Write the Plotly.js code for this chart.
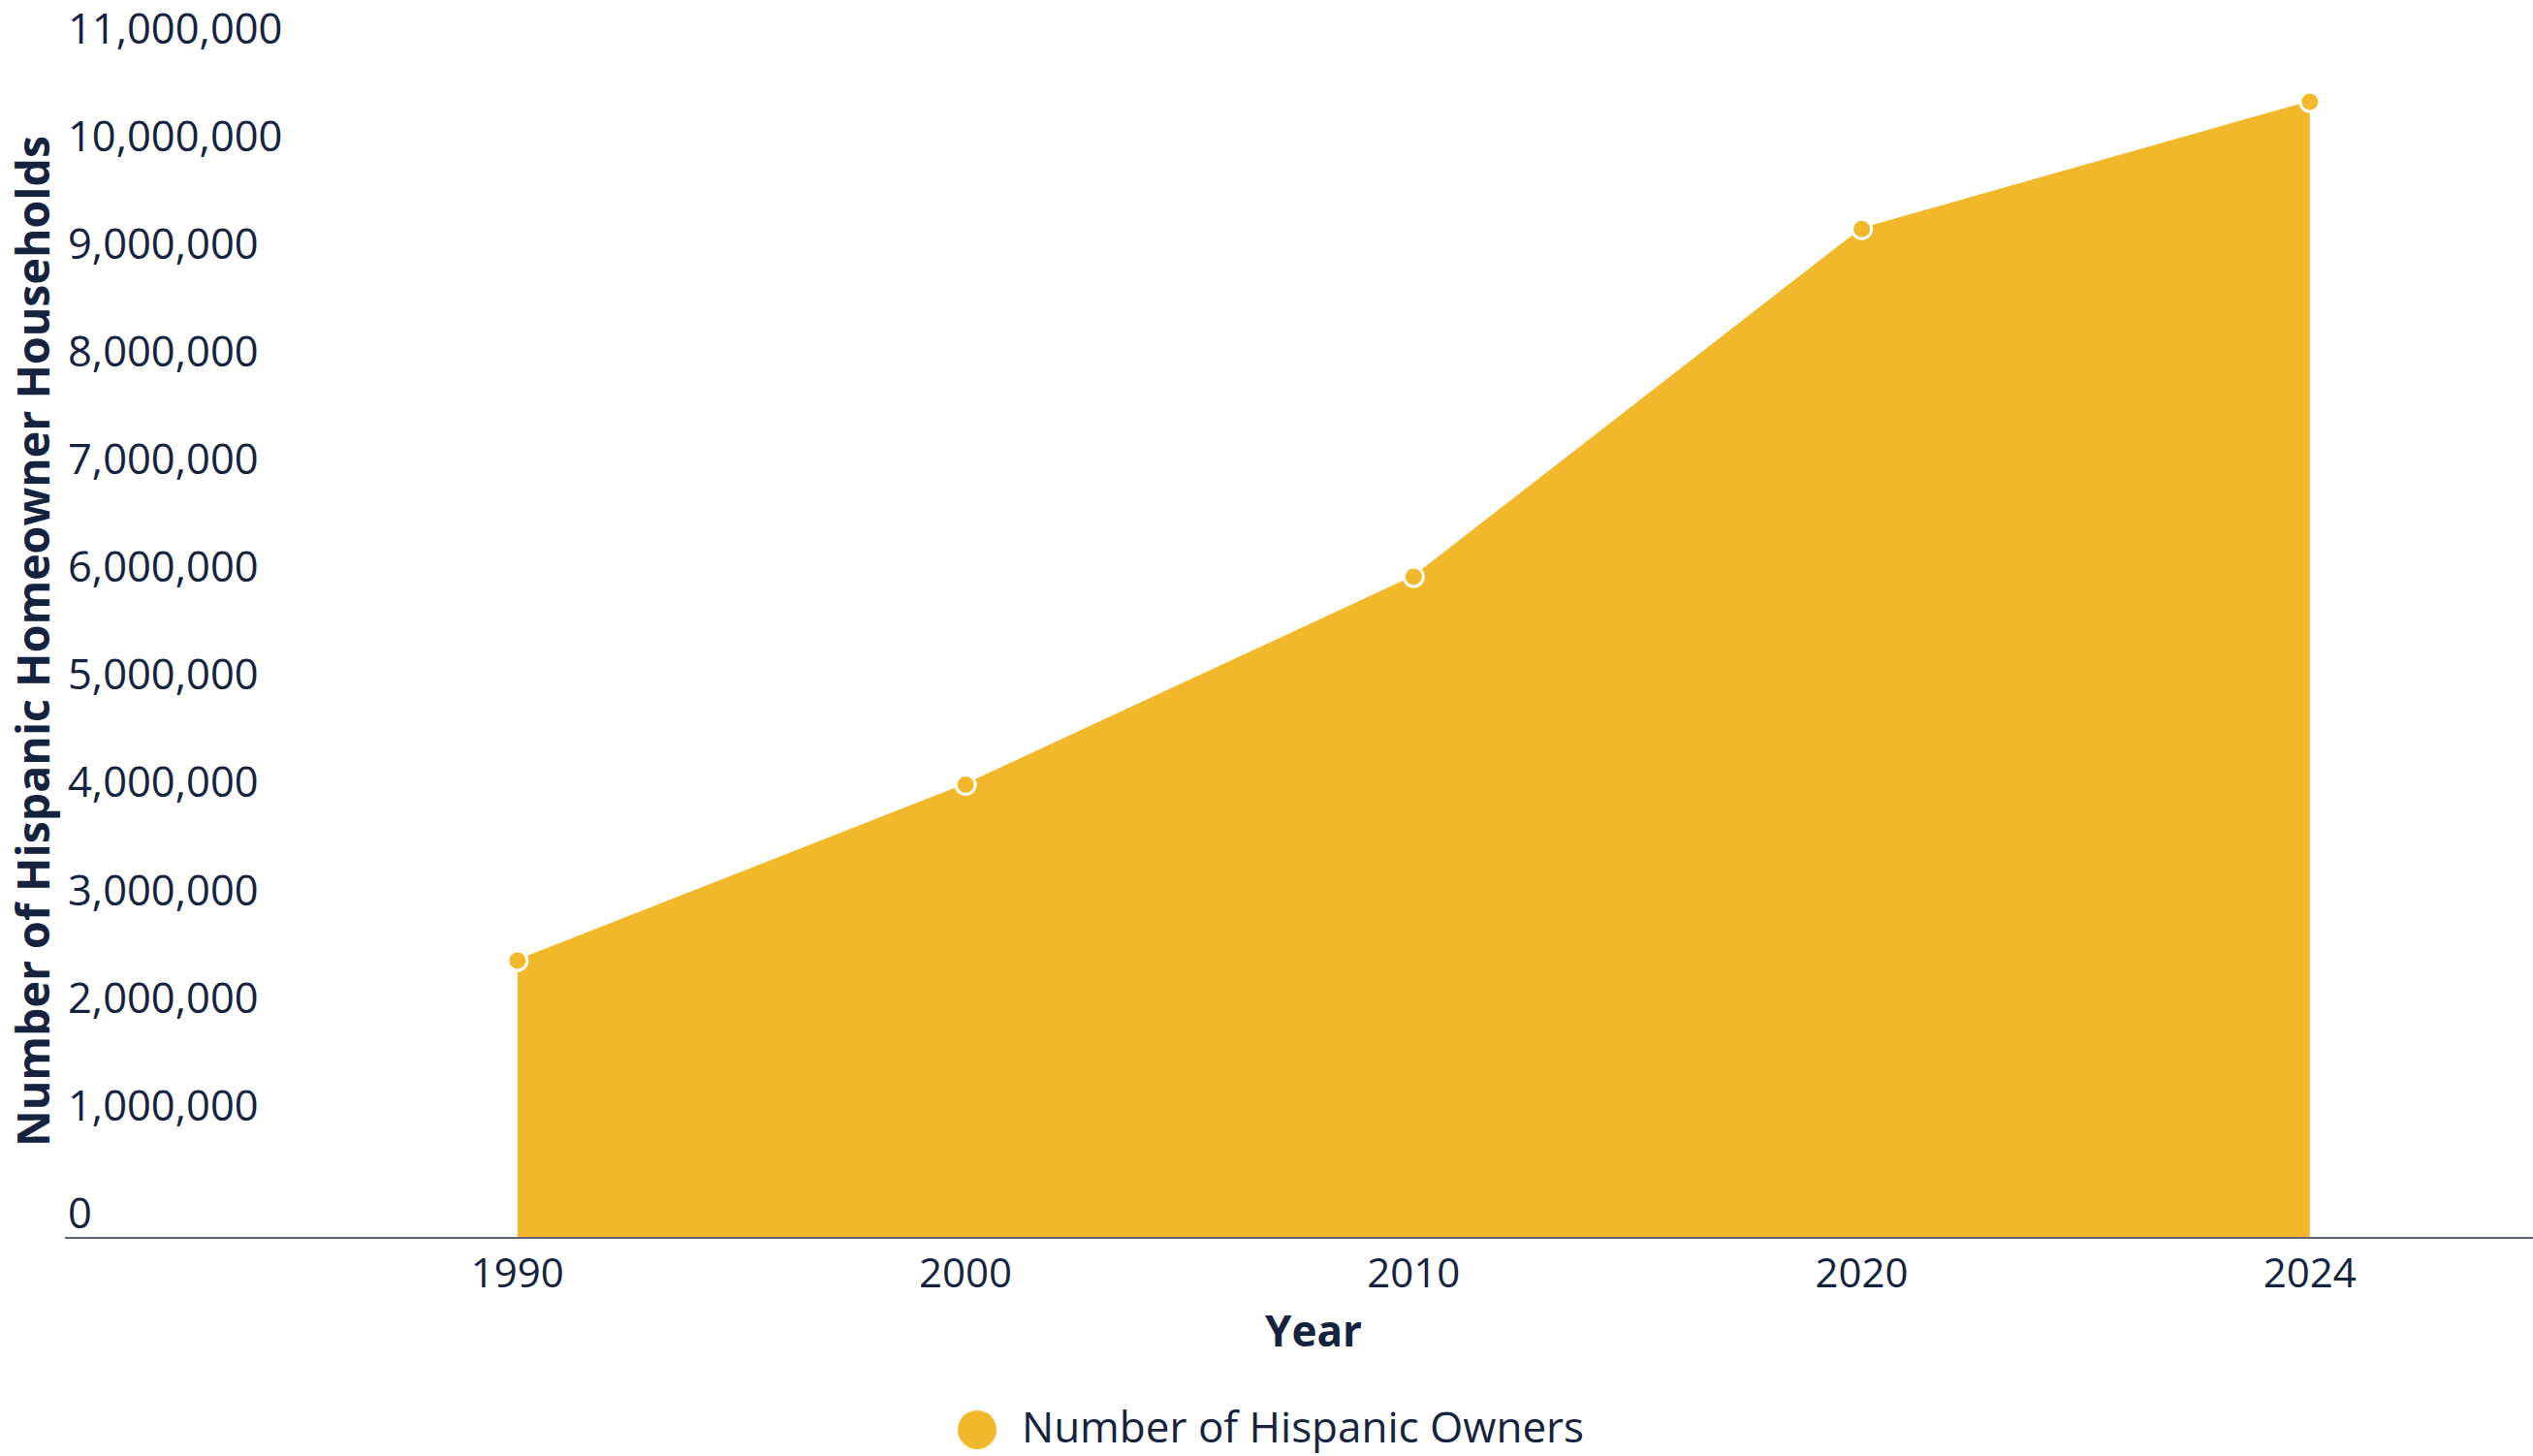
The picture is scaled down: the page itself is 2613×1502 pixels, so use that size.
<!DOCTYPE html>
<html>
<head>
<meta charset="utf-8">
<script src="https://cdn.plot.ly/plotly-3.0.1.min.js"></script>
<style>html,body{margin:0;padding:0;background:#fff;}#chart{width:2613px;height:1502px;}</style>
</head>
<body>
<div id="chart"></div>
<script>
// Data
const years = ['1990', '2000', '2010', '2020', '2024'];
const hispanicOwners = [2565000, 4200000, 6130000, 9360000, 10540000];
const yTickValues = [0, 1000000, 2000000, 3000000, 4000000, 5000000, 6000000, 7000000, 8000000, 9000000, 10000000, 11000000];
const seriesName = 'Number of Hispanic Owners';
const xTitle = 'Year';
const yTitle = 'Number of Hispanic Homeowner Households';

const navy = '#16233F';
const gold = '#F0B82A';
const fontFam = '"Open Sans", Roboto, sans-serif';

const trace = {
  type: 'scatter',
  mode: 'lines+markers',
  name: seriesName,
  x: years,
  y: hispanicOwners,
  fill: 'tozeroy',
  fillcolor: gold,
  line: {color: gold, width: 2},
  marker: {size: 20, color: gold, line: {color: '#ffffff', width: 3}},
  showlegend: false,
  hovertemplate: '%{x}: %{y:,}<extra></extra>'
};

const layout = {
  width: 2613,
  height: 1502,
  margin: {l: 67, r: 0, t: 4, b: 226, pad: 0},
  paper_bgcolor: '#ffffff',
  plot_bgcolor: '#ffffff',
  font: {family: fontFam, color: navy, size: 42},
  showlegend: false,
  xaxis: {
    type: 'category',
    range: [-1.010, 4.498],
    showline: true,
    linecolor: '#5B6271',
    linewidth: 2,
    showgrid: false,
    zeroline: false,
    ticks: '',
    tickfont: {size: 42, color: navy, family: fontFam},
    automargin: false
  },
  yaxis: {
    range: [0, 11450000],
    tickmode: 'array',
    tickvals: yTickValues,
    tickformat: ',d',
    ticklabelposition: 'inside top',
    ticklabeloverflow: 'allow',
    ticklabelstandoff: 0,
    ticklabelshift: 6,
    showgrid: false,
    zeroline: false,
    showline: false,
    ticks: '',
    tickfont: {size: 43.5, color: navy, family: fontFam},
    automargin: false
  },
  shapes: [{
    type: 'circle',
    xref: 'paper', yref: 'paper',
    xsizemode: 'pixel', ysizemode: 'pixel',
    xanchor: 0.3696, yanchor: -0.1564,
    x0: -20, x1: 20, y0: -20, y1: 20,
    fillcolor: gold,
    line: {width: 0}
  }],
  annotations: [
    {
      // legend label
      xref: 'paper', yref: 'paper',
      x: 0.3873, y: -0.1533,
      xanchor: 'left', yanchor: 'middle',
      text: seriesName,
      showarrow: false,
      borderpad: 0,
      font: {size: 44, color: navy, family: fontFam}
    },
    {
      // x-axis title
      xref: 'paper', yref: 'paper',
      x: 0.5059, y: -0.0755,
      xanchor: 'center', yanchor: 'middle',
      text: xTitle,
      showarrow: false,
      borderpad: 0,
      font: {size: 44, color: navy, family: fontFam, weight: 'bold'}
    },
    {
      // y-axis title
      xref: 'paper', yref: 'paper',
      x: -0.01335, y: 0.4827,
      xanchor: 'center', yanchor: 'middle',
      textangle: -90,
      text: yTitle,
      showarrow: false,
      borderpad: 0,
      font: {size: 46.5, color: navy, family: fontFam, weight: 'bold'}
    }
  ]
};

Plotly.newPlot('chart', [trace], layout, {displayModeBar: false, responsive: false});
</script>
</body>
</html>
